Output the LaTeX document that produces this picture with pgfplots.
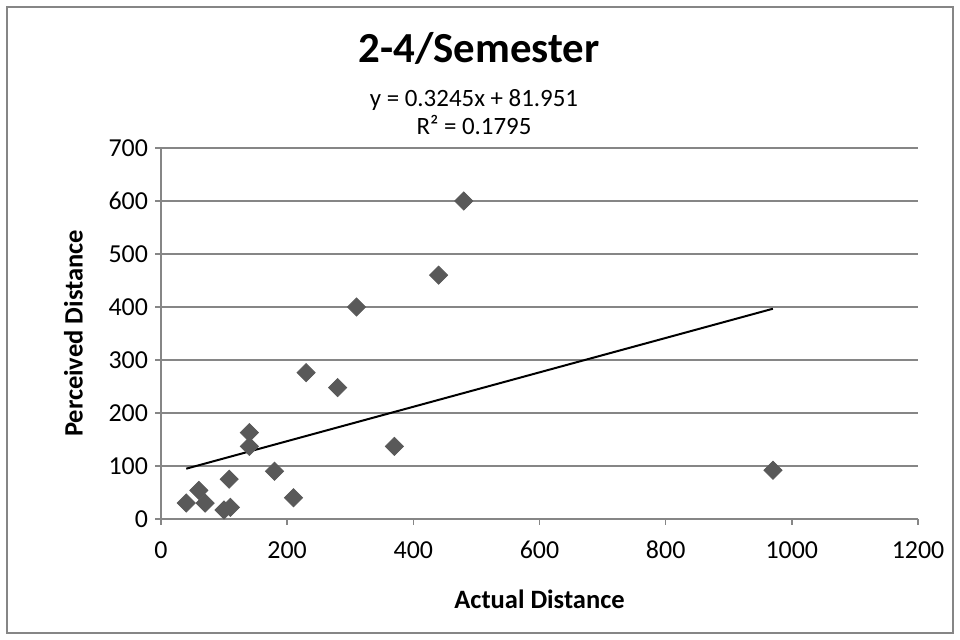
\documentclass[border=0pt]{standalone}
\usepackage{pgfplots}
\pgfplotsset{compat=1.18}
\usepackage{fontspec}
\setmainfont{Carlito}
\definecolor{gridgray}{RGB}{134,134,134}
\definecolor{markgray}{RGB}{89,89,89}
\definecolor{bordergray}{RGB}{134,134,134}
\begin{document}
\begin{tikzpicture}[x=0.5bp,y=0.5bp]
\useasboundingbox (0,0) rectangle (960,640);
\fill[white] (0,0) rectangle (960,640);
\draw[bordergray,line width=1.2bp] (7,7) rectangle (953,633);
\begin{axis}[
  at={(80.5bp,60.5bp)}, anchor=south west,
  scale only axis,
  width=378.5bp, height=185.5bp,
  xmin=0, xmax=1200, ymin=0, ymax=700,
  xtick={0,200,...,1200}, ytick={0,100,...,700},
  axis x line*=bottom, axis y line*=left,
  axis line style={gridgray, line width=0.8bp, -},
  tick align=outside, major tick length=3bp,
  tick style={gridgray, line width=0.8bp},
  ymajorgrids, grid style={gridgray, line width=0.8bp},
  /pgf/number format/assume math mode=true,
  /pgf/number format/1000 sep={},
  ticklabel style={font=\fontsize{13}{15}\selectfont},
  xticklabel style={text height=9bp, text depth=0bp, yshift=-4bp},
  yticklabel style={xshift=0bp},
  xlabel={\textbf{Actual Distance}},
  ylabel={\textbf{Perceived Distance}},
  label style={font=\fontsize{13.3}{15}\selectfont},
  xlabel style={yshift=-9bp},
  ylabel style={yshift=6bp},
  clip=false,
]
\addplot[only marks, mark=square*, mark size=3.2bp,
  mark options={rotate=45, fill=markgray, draw=markgray}]
coordinates {
(40,30) (60,54) (70,30) (100,17) (110,22) (108,75)
(140,163) (140,137) (180,90) (210,40) (230,276) (280,248)
(310,400) (370,137) (440,460) (480,600) (970,92)
};
\addplot[black, line width=1bp] coordinates {(40,94.93) (970,396.72)};
\end{axis}
\node[font=\fontsize{21.5}{24}\selectfont\bfseries] at (479,592) {2-4/Semester};
\node[font=\fontsize{12.5}{14}\selectfont] at (474,540) {y = 0.3245x + 81.951};
\node[font=\fontsize{12.5}{14}\selectfont] at (474,515) {R² = 0.1795};
\end{tikzpicture}
\end{document}
